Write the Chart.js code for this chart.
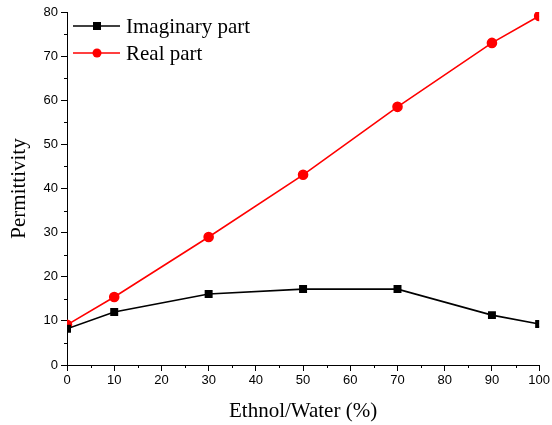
<!DOCTYPE html>
<html>
<head>
<meta charset="utf-8">
<script src="https://cdn.jsdelivr.net/npm/chart.js@4"></script>
<style>
  html, body { margin: 0; padding: 0; background: #fff; }
  #wrap { width: 552px; height: 425px; }
</style>
</head>
<body>
<div id="wrap"><canvas id="chart"></canvas></div>
<script>
// ethanol fraction (%)
const ratios = [0, 10, 30, 50, 70, 90, 100];
const imaginaryPart = [8.2, 12.0, 16.1, 17.2, 17.2, 11.3, 9.3];
const realPart = [9.1, 15.4, 29.0, 43.1, 58.5, 73.0, 79.1];
const xMinorTicks = [5, 15, 25, 35, 45, 55, 65, 75, 85, 95];
const yMinorTicks = [5, 15, 25, 35, 45, 55, 65, 75];

// small outward minor ticks + legend inside the plot
const extras = {
  id: 'extras',
  afterDraw(chart) {
    const ctx = chart.ctx;
    const xs = chart.scales.x, ys = chart.scales.y;
    const area = chart.chartArea;
    ctx.save();
    ctx.strokeStyle = '#000';
    ctx.lineWidth = 1;
    ctx.beginPath();
    xMinorTicks.forEach(v => {
      const px = Math.round(xs.getPixelForValue(v)) + 0.5;
      ctx.moveTo(px, area.bottom);
      ctx.lineTo(px, area.bottom + 3);
    });
    yMinorTicks.forEach(v => {
      const py = Math.round(ys.getPixelForValue(v)) + 0.5;
      ctx.moveTo(area.left, py);
      ctx.lineTo(area.left - 3, py);
    });
    ctx.stroke();

    // legend
    const items = [
      { label: 'Imaginary part', color: '#000', shape: 'rect', y: 26 },
      { label: 'Real part', color: '#ff0000', shape: 'circle', y: 53 }
    ];
    items.forEach(it => {
      ctx.strokeStyle = it.color;
      ctx.fillStyle = it.color;
      ctx.lineWidth = 1.6;
      ctx.beginPath();
      ctx.moveTo(73, it.y);
      ctx.lineTo(120, it.y);
      ctx.stroke();
      if (it.shape === 'rect') {
        ctx.fillRect(93, it.y - 4, 8, 8);
      } else {
        ctx.beginPath();
        ctx.arc(97, it.y, 4.5, 0, Math.PI * 2);
        ctx.fill();
      }
      ctx.fillStyle = '#000';
      ctx.font = '21px "Liberation Serif"';
      ctx.textBaseline = 'middle';
      ctx.textAlign = 'left';
      ctx.fillText(it.label, 126, it.y + 1);
    });
    ctx.restore();
  }
};

const tickFont = { family: 'Liberation Sans', size: 13 };
const titleFont = { family: 'Liberation Serif', size: 21 };

new Chart(document.getElementById('chart'), {
  type: 'line',
  data: {
    datasets: [
      {
        label: 'Imaginary part',
        data: ratios.map((r, i) => ({ x: r, y: imaginaryPart[i] })),
        borderColor: '#000',
        backgroundColor: '#000',
        borderWidth: 1.6,
        pointStyle: 'rect',
        pointRadius: 4.5,
        pointHoverRadius: 4.5,
        tension: 0
      },
      {
        label: 'Real part',
        data: ratios.map((r, i) => ({ x: r, y: realPart[i] })),
        borderColor: '#ff0000',
        backgroundColor: '#ff0000',
        borderWidth: 1.6,
        pointStyle: 'circle',
        pointRadius: 4.5,
        pointHoverRadius: 4.5,
        tension: 0
      }
    ]
  },
  options: {
    responsive: true,
    maintainAspectRatio: false,
    animation: false,
    layout: { padding: { top: 12, right: 11, left: 0, bottom: 0 } },
    plugins: {
      legend: { display: false },
      tooltip: { enabled: false }
    },
    scales: {
      x: {
        type: 'linear',
        min: 0,
        max: 100,
        ticks: { stepSize: 10, color: '#000', font: tickFont, padding: 2, maxRotation: 0 },
        grid: { drawOnChartArea: false, drawTicks: true, tickLength: 6, color: '#000' },
        border: { display: true, color: '#000', width: 1 },
        title: { display: true, text: 'Ethnol/Water (%)', color: '#000', font: titleFont, padding: { top: 0, bottom: 1 } },
        afterFit(scale) { scale.height = 60; }
      },
      y: {
        min: 0,
        max: 80,
        ticks: { stepSize: 10, color: '#000', font: tickFont, padding: 3 },
        grid: { drawOnChartArea: false, drawTicks: true, tickLength: 6, color: '#000' },
        border: { display: true, color: '#000', width: 1 },
        title: { display: true, text: 'Permittivity', color: '#000', font: titleFont, padding: { top: 7, bottom: 0 } },
        afterFit(scale) { scale.width = 67; }
      }
    }
  },
  plugins: [extras]
});
</script>
</body>
</html>
